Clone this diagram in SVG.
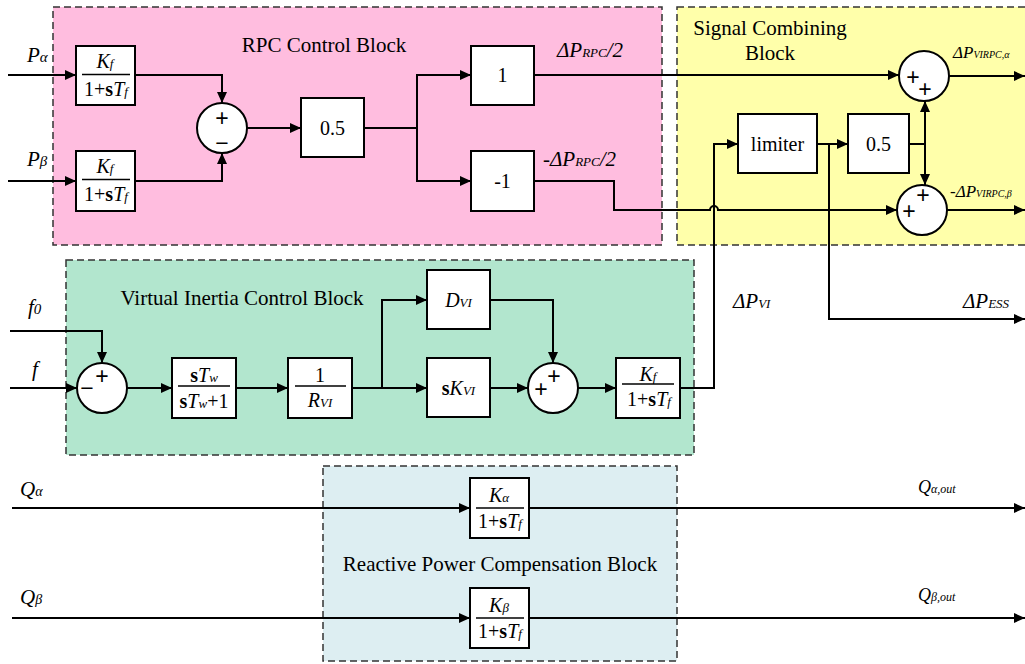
<svg xmlns="http://www.w3.org/2000/svg" width="1025" height="664" viewBox="0 0 1025 664">
<defs>
<marker id="ar" markerUnits="userSpaceOnUse" markerWidth="12" markerHeight="10" refX="11" refY="5" orient="auto">
<path d="M0,0 L11,5 L0,10 Z" fill="#000"/>
</marker>
<style>
.reg{stroke:#333;stroke-width:1.5;stroke-dasharray:7,4}
.box{fill:#fff;stroke:#000;stroke-width:2}
.sum{fill:#fff;stroke:#000;stroke-width:2}
.w{fill:none;stroke:#000;stroke-width:2}
.a{fill:none;stroke:#000;stroke-width:2;marker-end:url(#ar)}
.bar{stroke:#000;stroke-width:1.3}
text{font-family:"Liberation Serif","Times New Roman",serif;fill:#000}
.t{font-size:20px}
.tt{font-size:21px}
.i{font-style:italic}
.b{font-weight:bold}
.sg{font-family:"Liberation Sans",Arial,sans-serif;font-size:23px}
</style>
</defs>
<rect width="1025" height="664" fill="#fff"/>
<g id="regions">
<rect class="reg" x="53" y="7" width="609" height="238" fill="#FFBDDF"/>
<rect class="reg" x="677" y="7" width="352" height="238" fill="#FFFFAA"/>
<rect class="reg" x="66" y="260" width="628" height="195" fill="#B2E6CE"/>
<rect class="reg" x="323" y="466" width="354" height="195" fill="#DDEEF2"/>
<text class="tt" x="324" y="52" text-anchor="middle">RPC Control Block</text>
<text class="tt" x="770" y="35" text-anchor="middle">Signal Combining</text>
<text class="tt" x="770" y="60" text-anchor="middle">Block</text>
<text class="tt" x="242" y="305" text-anchor="middle">Virtual Inertia Control Block</text>
<text class="tt" x="500" y="571" text-anchor="middle">Reactive Power Compensation Block</text>
</g>
<g id="connectors">
<path class="a" d="M8,75 H76"/>
<path class="a" d="M8,181 H76"/>
<path class="a" d="M135,75 H222 V103"/>
<path class="a" d="M135,181 H222 V153"/>
<path class="a" d="M247,128 H301"/>
<path class="w" d="M364,128 H417"/>
<path class="a" d="M417,128 V75 H471"/>
<path class="a" d="M417,128 V181 H471"/>
<path class="a" d="M534,75 H899"/>
<path class="a" d="M534,181 H614 V210 H710 A4,4 0 0 1 718,210 H897"/>
<path class="a" d="M949,76 H1025"/>
<path class="a" d="M947,210 H1025"/>
<path class="a" d="M680,388 H714 V144 H738"/>
<path class="a" d="M817,144 H848"/>
<path class="a" d="M829,144 V319 H1025"/>
<path class="w" d="M909,144 H925"/>
<path class="a" d="M925,144 V101"/>
<path class="a" d="M925,144 V185"/>
<path class="a" d="M10,331 H102 V363"/>
<path class="a" d="M10,388 H77"/>
<path class="a" d="M127,388 H172"/>
<path class="a" d="M236,388 H288"/>
<path class="w" d="M352,388 H382"/>
<path class="a" d="M382,388 V300 H427"/>
<path class="a" d="M382,388 H427"/>
<path class="a" d="M490,300 H553 V363"/>
<path class="a" d="M490,388 H528"/>
<path class="a" d="M578,388 H616"/>
<path class="a" d="M12,508 H470"/>
<path class="a" d="M529,508 H1025"/>
<path class="a" d="M12,618 H470"/>
<path class="a" d="M529,618 H1025"/>
</g>
<g id="labels">
<text class="tt i" x="27" y="62">P<tspan font-size="15">α</tspan></text>
<text class="tt i" x="27" y="166">P<tspan font-size="15">β</tspan></text>
<text class="tt i" x="557" y="57">ΔP<tspan font-size="13">RPC</tspan>/2</text>
<text class="tt i" x="543" y="166">-ΔP<tspan font-size="13">RPC</tspan>/2</text>
<text class="i" font-size="17" x="953" y="58">ΔP<tspan font-size="10">VIRPC,α</tspan></text>
<text class="i" font-size="17" x="950" y="197">-ΔP<tspan font-size="10">VIRPC,β</tspan></text>
<text class="tt i" x="733" y="308">ΔP<tspan font-size="13">VI</tspan></text>
<text class="tt i" x="963" y="308">ΔP<tspan font-size="13">ESS</tspan></text>
<text class="tt i" x="28" y="314">f<tspan font-size="15">0</tspan></text>
<text class="tt i" x="32" y="376">f</text>
<text class="tt i" x="20" y="496">Q<tspan font-size="14">α</tspan></text>
<text class="tt i" x="20" y="604">Q<tspan font-size="14">β</tspan></text>
<text class="i" font-size="18" x="918" y="493">Q<tspan font-size="12">α,out</tspan></text>
<text class="i" font-size="18" x="918" y="601">Q<tspan font-size="12">β,out</tspan></text>
</g>
<g id="kf1">
<rect class="box" x="76" y="46" width="59" height="59"/>
<text class="t i" x="105" y="68" text-anchor="middle">K<tspan font-size="13">f</tspan></text>
<line class="bar" x1="82" y1="74.5" x2="130" y2="74.5"/>
<text class="t" x="106" y="96" text-anchor="middle">1+<tspan class="b">s</tspan><tspan class="i">T<tspan font-size="13">f</tspan></tspan></text>
</g>
<g id="kf2">
<rect class="box" x="76" y="151" width="59" height="60"/>
<text class="t i" x="105" y="173" text-anchor="middle">K<tspan font-size="13">f</tspan></text>
<line class="bar" x1="82" y1="179.5" x2="130" y2="179.5"/>
<text class="t" x="106" y="201" text-anchor="middle">1+<tspan class="b">s</tspan><tspan class="i">T<tspan font-size="13">f</tspan></tspan></text>
</g>
<g id="sum1">
<circle class="sum" cx="222" cy="128" r="25"/>
<text class="sg" x="222" y="126" text-anchor="middle">+</text>
<text class="sg" x="222" y="151" text-anchor="middle">−</text>
</g>
<g id="gain05a">
<rect class="box" x="301" y="98" width="63" height="59"/>
<text class="t" x="332.5" y="135" text-anchor="middle">0.5</text>
</g>
<g id="gain1">
<rect class="box" x="471" y="46" width="63" height="59"/>
<text class="t" x="502.5" y="82" text-anchor="middle">1</text>
</g>
<g id="gainm1">
<rect class="box" x="471" y="151" width="63" height="60"/>
<text class="t" x="502.5" y="188" text-anchor="middle">-1</text>
</g>
<g id="limiter">
<rect class="box" x="738" y="114" width="79" height="59"/>
<text class="t" x="777.5" y="151" text-anchor="middle">limiter</text>
</g>
<g id="gain05b">
<rect class="box" x="848" y="114" width="61" height="59"/>
<text class="t" x="878.5" y="151" text-anchor="middle">0.5</text>
</g>
<g id="sumA">
<circle class="sum" cx="924" cy="76" r="25"/>
<text class="sg" x="913" y="85" text-anchor="middle">+</text>
<text class="sg" x="925" y="97" text-anchor="middle">+</text>
</g>
<g id="sumB">
<circle class="sum" cx="922" cy="210" r="25"/>
<text class="sg" x="923" y="203" text-anchor="middle">+</text>
<text class="sg" x="909" y="219" text-anchor="middle">+</text>
</g>
<g id="sumVI1">
<circle class="sum" cx="102" cy="388" r="25"/>
<text class="sg" x="102" y="384" text-anchor="middle">+</text>
<text class="sg" x="87" y="396" text-anchor="middle">−</text>
</g>
<g id="washout">
<rect class="box" x="172" y="358" width="64" height="60"/>
<text class="t" x="204" y="382" text-anchor="middle"><tspan class="b">s</tspan><tspan class="i">T<tspan font-size="13">w</tspan></tspan></text>
<line class="bar" x1="178" y1="386" x2="230" y2="386"/>
<text class="t" x="204" y="408" text-anchor="middle"><tspan class="b">s</tspan><tspan class="i">T<tspan font-size="13">w</tspan></tspan>+1</text>
</g>
<g id="droop">
<rect class="box" x="288" y="358" width="64" height="60"/>
<text class="t" x="320" y="382" text-anchor="middle">1</text>
<line class="bar" x1="295" y1="386" x2="346" y2="386"/>
<text class="t i" x="320" y="407" text-anchor="middle">R<tspan font-size="13">VI</tspan></text>
</g>
<g id="dvi">
<rect class="box" x="427" y="270" width="63" height="59"/>
<text class="t i" x="458.5" y="307" text-anchor="middle">D<tspan font-size="13">VI</tspan></text>
</g>
<g id="skvi">
<rect class="box" x="427" y="358" width="63" height="59"/>
<text class="t" x="458.5" y="395" text-anchor="middle"><tspan class="b">s</tspan><tspan class="i">K<tspan font-size="13">VI</tspan></tspan></text>
</g>
<g id="sumVI2">
<circle class="sum" cx="553" cy="388" r="25"/>
<text class="sg" x="554" y="384" text-anchor="middle">+</text>
<text class="sg" x="541" y="397" text-anchor="middle">+</text>
</g>
<g id="kf3">
<rect class="box" x="616" y="358" width="64" height="60"/>
<text class="t i" x="648" y="381" text-anchor="middle">K<tspan font-size="13">f</tspan></text>
<line class="bar" x1="622" y1="384" x2="674" y2="384"/>
<text class="t" x="649" y="406" text-anchor="middle">1+<tspan class="b">s</tspan><tspan class="i">T<tspan font-size="13">f</tspan></tspan></text>
</g>
<g id="kalpha">
<rect class="box" x="470" y="478" width="59" height="60"/>
<text class="t i" x="499" y="502" text-anchor="middle">K<tspan font-size="13">α</tspan></text>
<line class="bar" x1="476" y1="508" x2="524" y2="508"/>
<text class="t" x="500" y="528" text-anchor="middle">1+<tspan class="b">s</tspan><tspan class="i">T<tspan font-size="13">f</tspan></tspan></text>
</g>
<g id="kbeta">
<rect class="box" x="470" y="588" width="59" height="60"/>
<text class="t i" x="499" y="612" text-anchor="middle">K<tspan font-size="13">β</tspan></text>
<line class="bar" x1="476" y1="618" x2="524" y2="618"/>
<text class="t" x="500" y="638" text-anchor="middle">1+<tspan class="b">s</tspan><tspan class="i">T<tspan font-size="13">f</tspan></tspan></text>
</g>
</svg>
